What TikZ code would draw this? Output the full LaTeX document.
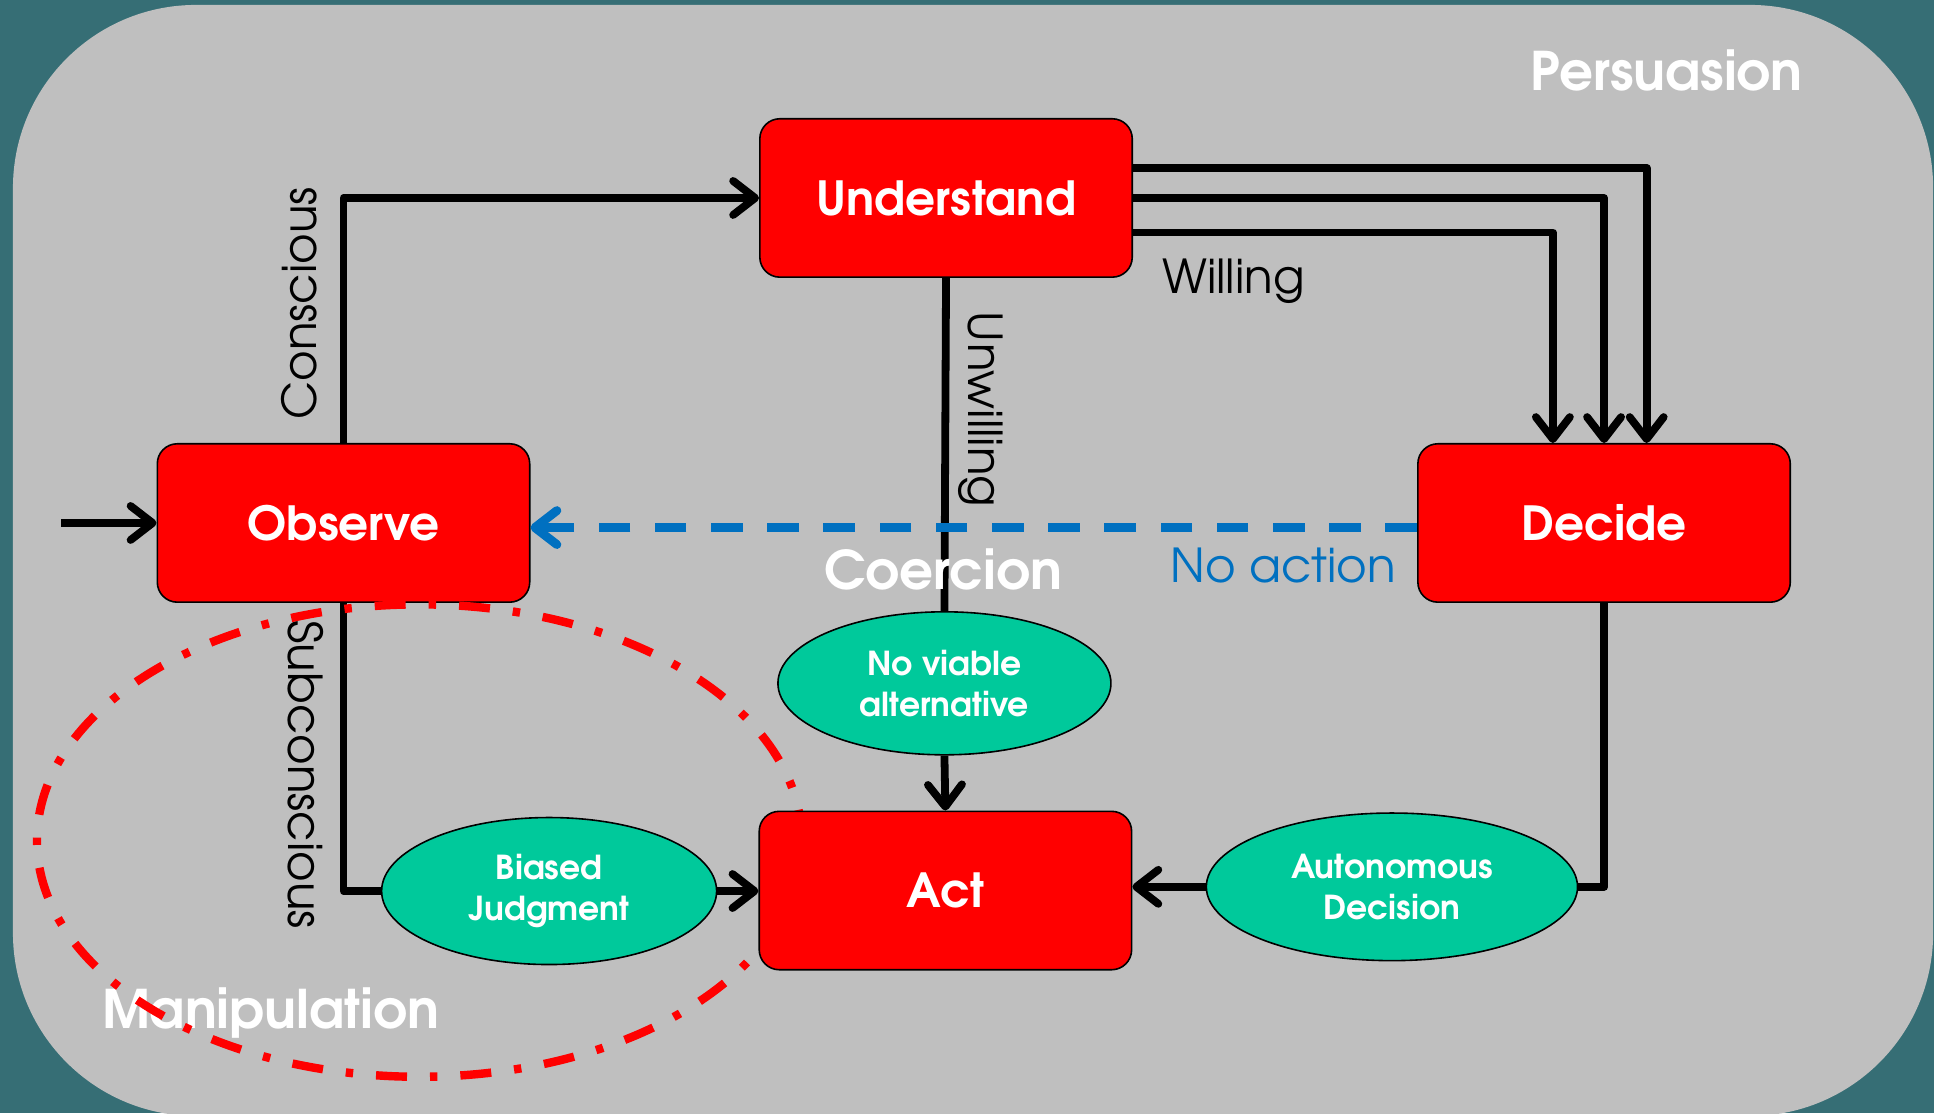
\documentclass[tikz,border=0pt]{standalone}
\usepackage{fontspec}
\setmainfont{texgyreadventor}[Extension=.otf,UprightFont=*-regular,BoldFont=*-bold,ItalicFont=*-italic,BoldItalicFont=*-bolditalic]
\usetikzlibrary{arrows.meta,shapes.geometric}
\definecolor{bgteal}{RGB}{54,110,117}
\definecolor{panelgray}{RGB}{191,191,191}
\definecolor{boxred}{RGB}{255,0,0}
\definecolor{ovalgreen}{RGB}{0,201,155}
\definecolor{actblue}{RGB}{0,112,192}
\pgfdeclarelayer{front}
\pgfsetlayers{main,front}
\tikzset{
  box/.style={draw=black, line width=0.8pt, fill=boxred, rounded corners=10pt,
    minimum width=186.2pt, minimum height=79.2pt, inner sep=0pt, text=white,
    font=\fontsize{23.5}{28}\selectfont\bfseries},
  oval/.style={ellipse, draw=black, line width=0.8pt, fill=ovalgreen, inner sep=0pt,
    text=white, align=center, font=\fontsize{16.5}{20.3}\selectfont\bfseries},
  conn/.style={draw=black, line width=3.9pt, line join=round},
  arr/.style={-{Straight Barb[round,length=11pt,width=17pt]}},
  noact/.style={draw=actblue, line width=4.4pt, dash pattern=on 15.8pt off 12.3pt,
    -{Straight Barb[round,length=11pt,width=17pt]}},
  manip/.style={draw=boxred, line width=4.2pt, dash pattern=on 15.5pt off 11.5pt on 3.7pt off 11.5pt},
  lbl/.style={inner sep=0pt, text=black, font=\fontsize{23.4}{28}\selectfont},
  region/.style={inner sep=0pt, text=white, font=\fontsize{26.6}{30}\selectfont\bfseries}
}
\begin{document}
\begin{tikzpicture}[x=0.6167pt, y=-0.6167pt]
\useasboundingbox (0,0) rectangle (1568,902.4);
\fill[bgteal] (0,0) rectangle (1568,902.4);
\fill[panelgray, rounded corners=91.5pt] (10.5,4) rectangle (1567.3,904.8);

% region labels
\node[region, anchor=base west] (pers) at (1240.5,73.5) {Persuasion};
\node[region, anchor=base west] (manlbl) at (82.4,833.5) {Manipulation};

% main nodes
\node[box] (und) at (767,160.5) {Understand};
\node[box] (obs) at (278.5,424) {Observe};
\node[box] (dec) at (1300.5,424) {Decide};
\begin{pgfonlayer}{front}
\node[box] (act) at (766.5,722) {Act};
\end{pgfonlayer}

\node[oval, minimum width=166.5pt, minimum height=71.5pt] (nva) at (765.7,554) {No viable\\alternative};
\node[oval, minimum width=167.5pt, minimum height=73.5pt] (bj) at (445.2,722.4) {Biased\\Judgment};
\node[oval, minimum width=185.6pt, minimum height=73.8pt] (aut) at (1128.5,719) {Autonomous\\Decision};

% entry
\coordinate (start) at (49.6,424);
\draw[conn, arr] (start) -- (obs.west);

% conscious path
\draw[conn, arr] (obs.north) |- (und.west);
\node[lbl, rotate=90, anchor=base] (conscious) at (257,246) {Conscious};

% willing paths
\coordinate (w1) at ([yshift=14.8pt]und.east);
\coordinate (w3) at ([yshift=-17.3pt]und.east);
\draw[conn, arr] (w1) -| ([xshift=21.3pt]dec.north);
\draw[conn, arr] (und.east) -| (dec.north);
\draw[conn, arr] (w3) -| ([xshift=-25.6pt]dec.north);
\node[lbl, anchor=base west] (willing) at (942,238) {Willing};

% unwilling / coercion
\draw[conn] (und.south) -- (nva.north);
\node[lbl, rotate=-90, anchor=base] (unwilling) at (785,332) {Unwilling};
\draw[conn, arr] (nva.south) -- (act.north);
\node[region, anchor=base west] (coer) at (668,477.6) {Coercion};

% no action
\draw[noact] ([yshift=-2.3pt]dec.west) -- ([yshift=-2.3pt]obs.east);
\node[lbl, text=actblue, anchor=base west] (noaction) at (948.6,472.4) {No action};

% autonomous decision
\draw[conn] (dec.south) |- (aut.east);
\draw[conn, arr] (aut.west) -- (aut.west -| act.east);

% subconscious
\draw[conn] (obs.south) |- (bj.west);
\node[lbl, rotate=-90, anchor=base] (subc) at (234,628) {Subconscious};
\draw[conn, arr] (bj.east) -- (bj.east -| act.west);

% manipulation boundary
\draw[manip] (340,681.5) ellipse [x radius=191.2pt, y radius=118.1pt];
\end{tikzpicture}
\end{document}
